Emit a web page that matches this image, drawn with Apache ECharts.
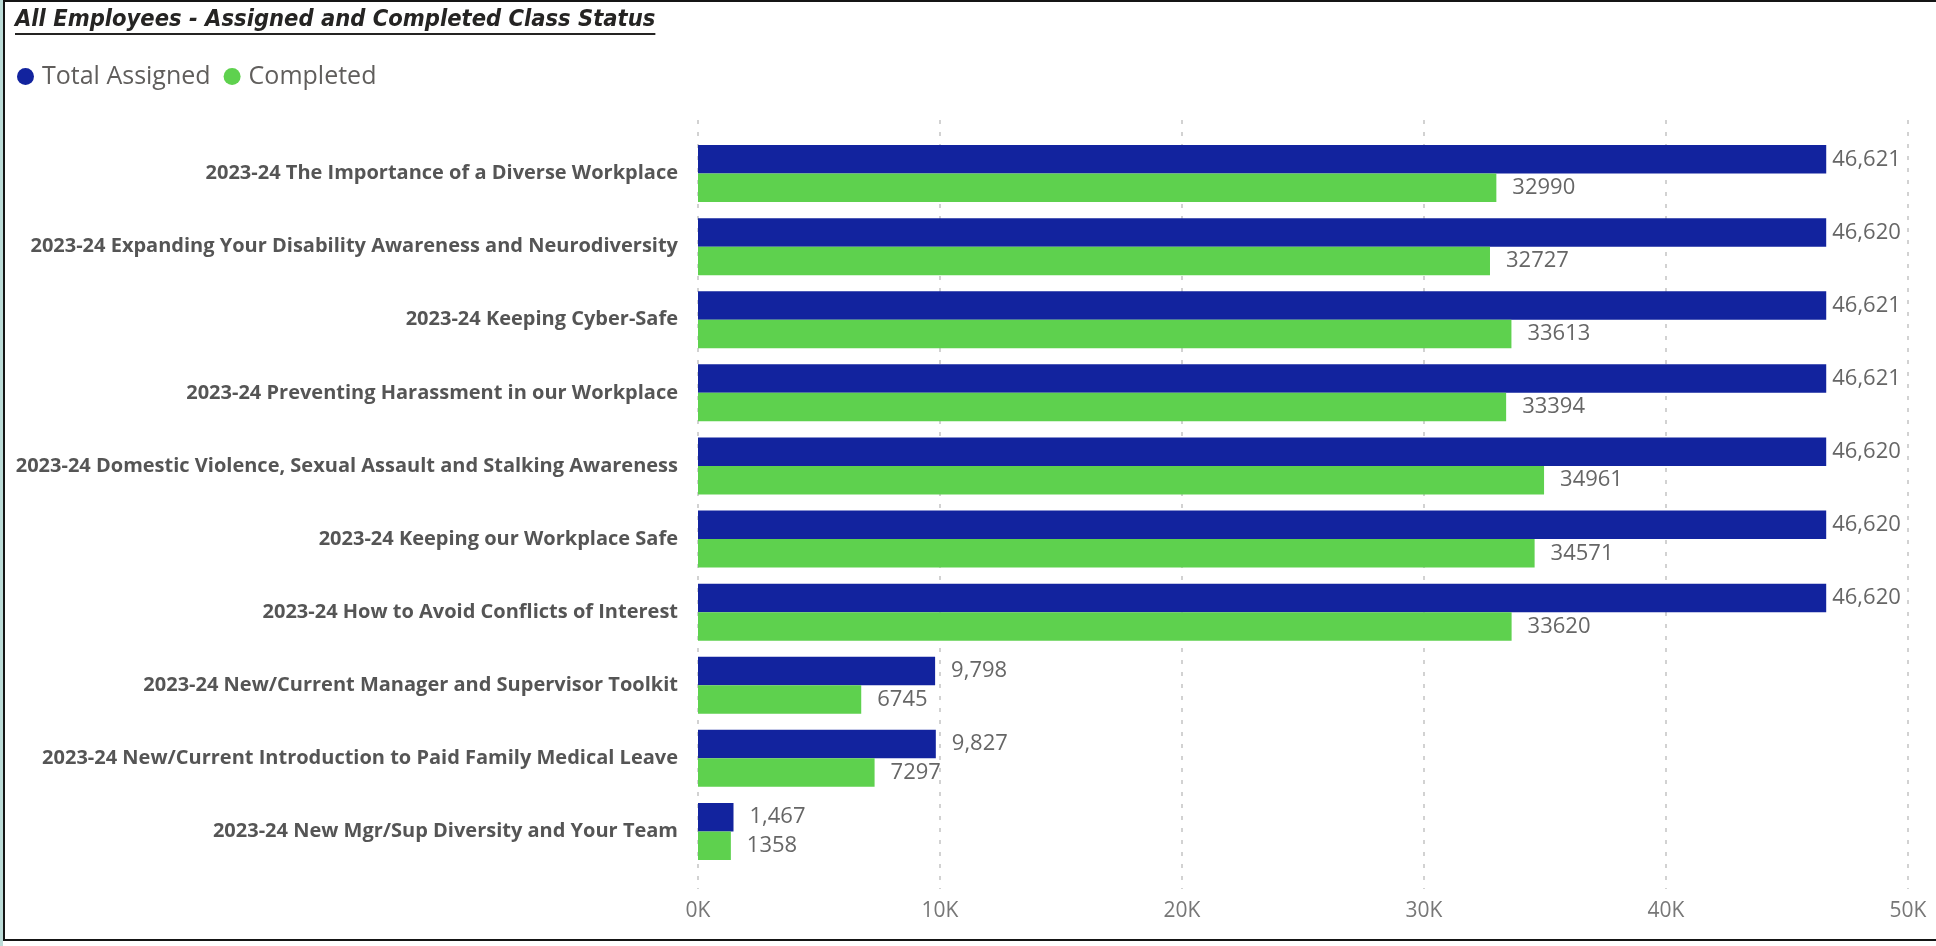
<!DOCTYPE html>
<html>
<head>
<meta charset="utf-8">
<script src="https://cdn.jsdelivr.net/npm/echarts@6/dist/echarts.min.js"></script>
<style>
  html, body { margin: 0; padding: 0; background: #fff; }
  #classStatus { position: absolute; left: 0; top: 0; width: 1936px; height: 946px; }
  /* 外框 */
  #frameOuter { position: absolute; left: 0; top: 0; width: 3px; height: 946px; background: #bcdcd8; }
  #frame { position: absolute; left: 3px; top: 0; width: 1933px; height: 941px;
           border-left: 2px solid #151515; border-top: 2px solid #151515; border-bottom: 2px solid #151515;
           box-sizing: border-box; pointer-events: none; }
</style>
</head>
<body>
<div id="classStatus"></div>
<div id="frameOuter"></div>
<div id="frame"></div>
<script>
  // 课程名称
  const courseNames = [
    '2023-24 The Importance of a Diverse Workplace',
    '2023-24 Expanding Your Disability Awareness and Neurodiversity',
    '2023-24 Keeping Cyber-Safe',
    '2023-24 Preventing Harassment in our Workplace',
    '2023-24 Domestic Violence, Sexual Assault and Stalking Awareness',
    '2023-24 Keeping our Workplace Safe',
    '2023-24 How to Avoid Conflicts of Interest',
    '2023-24 New/Current Manager and Supervisor Toolkit',
    '2023-24 New/Current Introduction to Paid Family Medical Leave',
    '2023-24 New Mgr/Sup Diversity and Your Team'
  ];
  const totalAssigned = [46621, 46620, 46621, 46621, 46620, 46620, 46620, 9798, 9827, 1467];
  const completed = [32990, 32727, 33613, 33394, 34961, 34571, 33620, 6745, 7297, 1358];
  const xTicks = [0, 10000, 20000, 30000, 40000, 50000];

  const titleText = 'All Employees - Assigned and Completed Class Status';
  const titleFont = 'italic bold 23.5px "Liberation Sans Narrow", "DejaVu Sans Condensed", sans-serif';

  // 标题下划线宽度
  function measure(text, font) {
    let ctx = document.createElement('canvas').getContext('2d');
    ctx.font = font;
    return ctx.measureText(text).width;
  }
  let titleWidth = measure(titleText, titleFont);

  let myChart = echarts.init(document.getElementById('classStatus'));

  let assignedData = totalAssigned.map(v => {
    // 接近右边缘的标签靠近柱子
    if (v > 45000) {
      return {value: v, label: {distance: 6}};
    }
    return v;
  });

  myChart.setOption({
    animation: false,
    textStyle: {fontFamily: '"Open Sans", "Noto Sans", sans-serif'},
    graphic: [
      {
        type: 'text',
        left: 15,
        top: 8,
        style: {
          text: titleText,
          font: titleFont,
          fill: '#252423'
        }
      },
      {
        type: 'rect',
        left: 15,
        top: 33,
        shape: {width: titleWidth, height: 2},
        style: {fill: '#252423'}
      }
    ],
    legend: {
      left: 12,
      top: 59,
      icon: 'circle',
      itemWidth: 17,
      itemHeight: 17,
      itemGap: 13,
      textStyle: {fontSize: 25, color: '#605e5c', padding: [0, 0, 0, 3]},
      data: ['Total Assigned', 'Completed']
    },
    grid: [
      {left: 698, right: 28, top: 120, bottom: 57},
      {left: 698, right: 28, top: 137, height: 731}
    ],
    xAxis: [
      {
        gridIndex: 0,
        type: 'value',
        min: 0,
        max: 50000,
        interval: 10000,
        axisLine: {show: false},
        axisTick: {show: false},
        axisLabel: {
          margin: 12,
          fontSize: 21,
          color: '#777',
          formatter: v => (v / 1000) + 'K'
        },
        splitLine: {
          show: true,
          lineStyle: {color: '#c4c4c4', width: 1.5, type: [4, 8]}
        }
      },
      {
        gridIndex: 1,
        type: 'value',
        min: 0,
        max: 50000,
        show: false,
        splitLine: {show: false}
      }
    ],
    yAxis: [
      {
        gridIndex: 0,
        type: 'category',
        data: courseNames,
        show: false
      },
      {
        gridIndex: 1,
        type: 'category',
        inverse: true,
        data: courseNames,
        axisLine: {show: false},
        axisTick: {show: false},
        axisLabel: {
          margin: 20,
          fontSize: 20,
          fontWeight: 'bold',
          color: '#555'
        }
      }
    ],
    series: [
      {
        name: 'Total Assigned',
        type: 'bar',
        xAxisIndex: 1,
        yAxisIndex: 1,
        barGap: '0%',
        barCategoryGap: '22%',
        itemStyle: {color: '#12239e'},
        label: {
          show: true,
          position: 'right',
          distance: 16,
          fontSize: 22,
          color: '#666',
          formatter: p => p.value.toLocaleString('en-US')
        },
        data: assignedData
      },
      {
        name: 'Completed',
        type: 'bar',
        xAxisIndex: 1,
        yAxisIndex: 1,
        barGap: '0%',
        barCategoryGap: '22%',
        itemStyle: {color: '#5ed14e'},
        label: {
          show: true,
          position: 'right',
          distance: 16,
          fontSize: 22,
          color: '#666'
        },
        data: completed
      }
    ]
  });
</script>
</body>
</html>
